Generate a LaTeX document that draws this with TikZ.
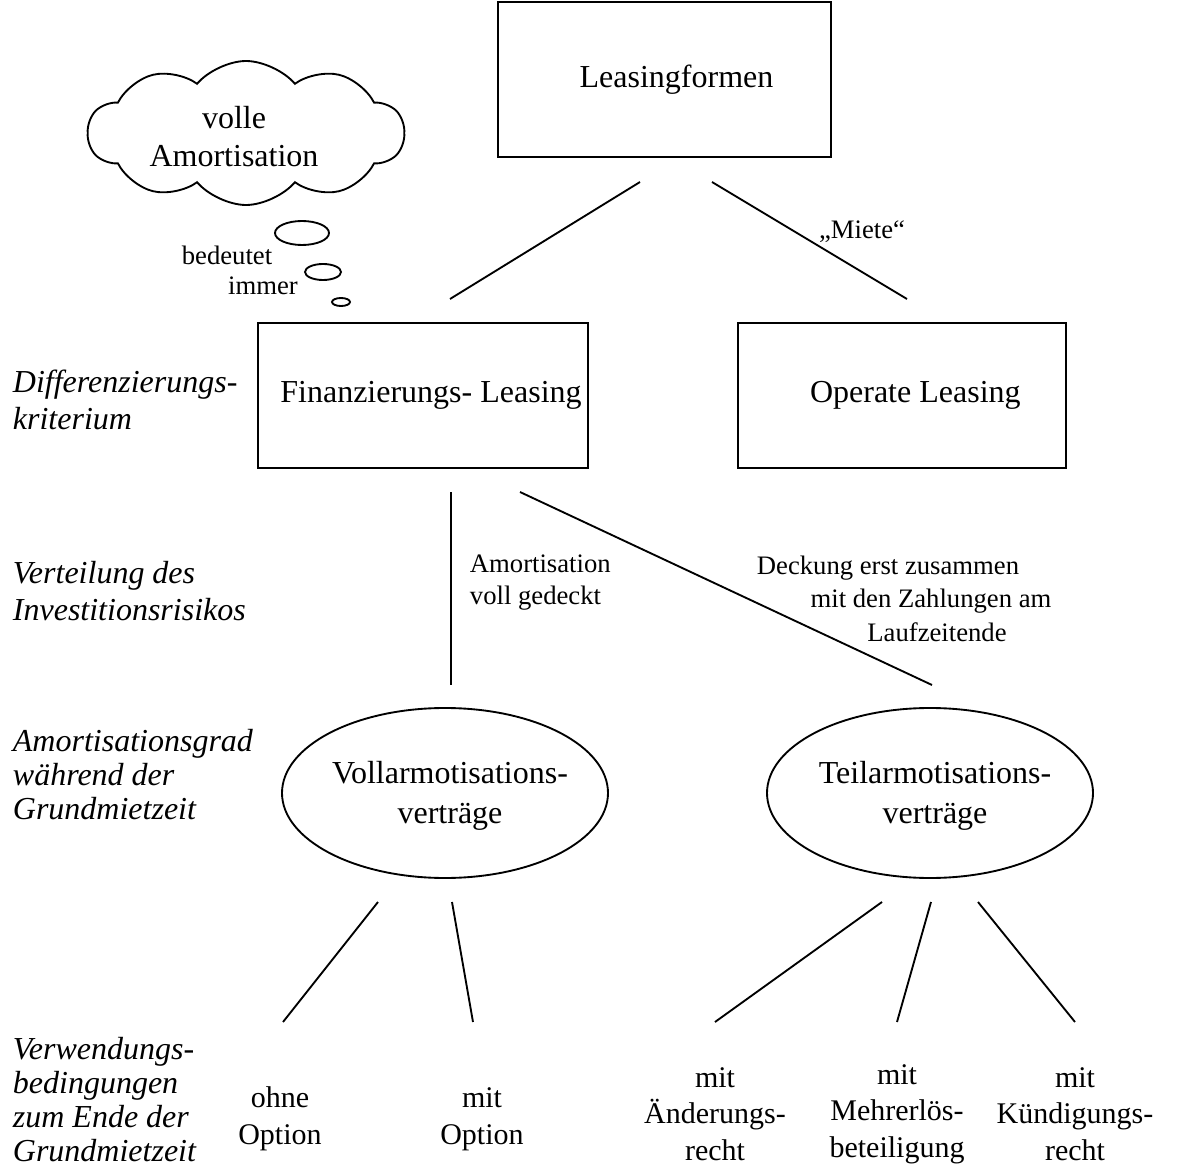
\documentclass[tikz,border=0pt]{standalone}
\usepackage{fontspec}
\setmainfont{Liberation Serif}
\usetikzlibrary{shapes.geometric,shapes.symbols}
\begin{document}
\begin{tikzpicture}[x=0.75pt,y=-0.75pt,line width=1.4pt,
  bigtext/.style={font=\fontsize{24}{29}\selectfont,align=center,inner sep=0pt},
  boxnode/.style={draw,bigtext},
  bigell/.style={draw,ellipse,minimum width=326*0.75pt,minimum height=170*0.75pt,inner sep=0pt},
  elltext/.style={font=\fontsize{24}{30}\selectfont,align=center,inner sep=0pt},
  leftlabel/.style={font=\fontsize{24}{26.5}\selectfont\itshape,align=left,anchor=west,inner sep=0pt},
  smalltext/.style={font=\fontsize{20}{24}\selectfont,inner sep=0pt},
  bottomtext/.style={font=\fontsize{22.5}{27.5}\selectfont,align=center,inner sep=0pt},
  bubble/.style={draw,ellipse,inner sep=0pt},
  conn/.style={line width=1.4pt}]
\useasboundingbox (0,0) rectangle (1179,1173);

% boxes (text slightly right of centre, as in the reference)
\node[boxnode,minimum width=333*0.75pt,minimum height=155*0.75pt] (lf) at (664.5,79.5) {\hspace*{18pt}Leasingformen};
\node[boxnode,minimum width=330*0.75pt,minimum height=145*0.75pt] (fl) at (423,395.5) {\hspace*{12pt}Finanzierungs- Leasing};
\node[boxnode,minimum width=328*0.75pt,minimum height=145*0.75pt] (ol) at (902,395.5) {\hspace*{20pt}Operate Leasing};

% cloud and bubbles
\node[cloud,draw,cloud puffs=10,cloud puff arc=100,cloud ignores aspect,minimum width=316*0.75pt,minimum height=144*0.75pt,inner sep=0pt] (cl) at (246,133) {};
\node[font=\fontsize{24}{28.5}\selectfont,align=center,inner sep=0pt] (clt) at (234,137) {volle\\Amortisation};
\node[bubble,minimum width=54*0.75pt,minimum height=24*0.75pt] (b1) at (302,233) {};
\node[bubble,minimum width=36*0.75pt,minimum height=16*0.75pt] (b2) at (323,272) {};
\node[bubble,minimum width=18*0.75pt,minimum height=8*0.75pt] (b3) at (341,302) {};
\node[smalltext] (bed) at (227,255) {bedeutet};
\node[smalltext] (imm) at (263,286) {immer};

% ellipses
\node[bigell] (va) at (445,793) {};
\node[elltext] (vat) at (450,796) {Vollarmotisations-\\verträge};
\node[bigell] (ta) at (930,793) {};
\node[elltext] (tat) at (935,796) {Teilarmotisations-\\verträge};

% left labels
\node[leftlabel,font=\fontsize{24}{27.5}\selectfont\itshape] (ll1) at (12,400) {Differenzierungs-\\kriterium};
\node[leftlabel,font=\fontsize{24}{28}\selectfont\itshape] (ll2) at (12,591) {Verteilung des\\Investitionsrisikos};
\node[leftlabel,font=\fontsize{24}{25.5}\selectfont\itshape] (ll3) at (12,775) {Amortisationsgrad\\während der\\Grundmietzeit};
\node[leftlabel,font=\fontsize{24}{25.5}\selectfont\itshape] (ll4) at (12,1100) {Verwendungs-\\bedingungen\\zum Ende der\\Grundmietzeit};

% edge labels
\node[smalltext] (mie) at (862,232) {„Miete“};
\node[smalltext,align=left,anchor=west] (avg) at (469,583) {Amortisation\\voll gedeckt};
\node[smalltext] (d1) at (888,568) {Deckung erst zusammen};
\node[smalltext] (d2) at (931,601) {mit den Zahlungen am};
\node[smalltext] (d3) at (937,632) {Laufzeitende};

% bottom labels
\node[bottomtext] (oo) at (280,1119) {ohne\\Option};
\node[bottomtext] (mo) at (482,1119) {mit\\Option};
\node[bottomtext] (mae) at (715,1114) {mit\\Änderungs-\\recht};
\node[bottomtext] (mme) at (897,1114) {mit\\Mehrerlös-\\beteiligung};
\node[bottomtext] (mku) at (1075,1114) {mit\\Kündigungs-\\recht};

% connector end points
\coordinate (l1a) at (640,182); \coordinate (l1b) at (450,299);
\coordinate (l2a) at (712,182); \coordinate (l2b) at (907,299);
\coordinate (l3a) at (451,492); \coordinate (l3b) at (451,685);
\coordinate (l4a) at (520,492); \coordinate (l4b) at (932,685);
\coordinate (v1a) at (378,902); \coordinate (v1b) at (283,1022);
\coordinate (v2a) at (452,902); \coordinate (v2b) at (473,1022);
\coordinate (t1a) at (882,902); \coordinate (t1b) at (715,1022);
\coordinate (t2a) at (931,902); \coordinate (t2b) at (897,1022);
\coordinate (t3a) at (978,902); \coordinate (t3b) at (1075,1022);

\draw[conn] (l1a) -- (l1b);
\draw[conn] (l2a) -- (l2b);
\draw[conn] (l3a) -- (l3b);
\draw[conn] (l4a) -- (l4b);
\draw[conn] (v1a) -- (v1b);
\draw[conn] (v2a) -- (v2b);
\draw[conn] (t1a) -- (t1b);
\draw[conn] (t2a) -- (t2b);
\draw[conn] (t3a) -- (t3b);
\end{tikzpicture}
\end{document}
